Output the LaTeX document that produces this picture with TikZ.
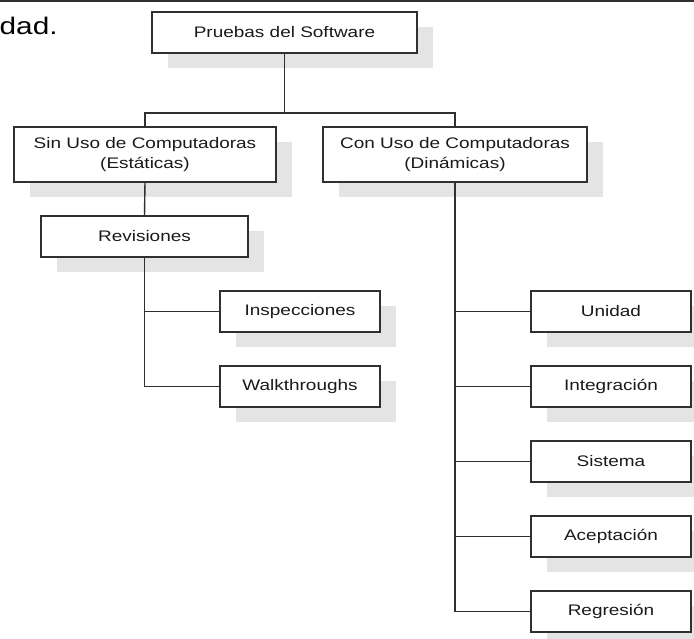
\documentclass[tikz,border=0pt]{standalone}
\usepackage{fontspec}
\setmainfont{Liberation Sans}
\usetikzlibrary{shadows}
\newcommand\hs[1]{\scalebox{1.24}[1]{#1}}
\definecolor{shadowgray}{HTML}{E4E4E4}
\definecolor{edgegray}{HTML}{303030}
\definecolor{txtgray}{HTML}{1A1A1A}
\begin{document}
\begin{tikzpicture}[x=1pt,y=-1pt,
  box/.style={draw=edgegray, line width=1.4pt, fill=white, inner sep=0pt, outer sep=0pt,
    text=txtgray, align=center, font=\fontsize{15.3}{20}\selectfont,
    drop shadow={shadow xshift=16pt, shadow yshift=-15pt, fill=shadowgray, opacity=1}},
  conn/.style={draw=edgegray, line width=1.4pt}]
\useasboundingbox (0,0) rectangle (694,638);
\clip (0,0) rectangle (694,638);
\draw[line width=1.6pt, edgegray] (0,1) -- (694,1);
\node[anchor=base west, text=black, font=\fontsize{24}{27}\selectfont, inner sep=0pt] (dad) at (-0.5,34) {\scalebox{1.24}[1]{dad.}};

\node[box, minimum width=265pt, minimum height=41pt] (pr) at (284.5,32.5) {\hs{Pruebas del Software}};
\node[box, minimum width=262pt, minimum height=55pt] (sin) at (145,154.5) {\hs{Sin Uso de Computadoras}\\\hs{(Estáticas)}};
\node[box, minimum width=264pt, minimum height=55pt] (con) at (455,154.5) {\hs{Con Uso de Computadoras}\\\hs{(Dinámicas)}};
\node[box, minimum width=207pt, minimum height=41pt] (rev) at (144.5,236.5) {\hs{Revisiones}};
\node[box, minimum width=160pt, minimum height=41pt] (ins) at (300,311.5) {\hs{Inspecciones}};
\node[box, minimum width=160pt, minimum height=41pt] (wal) at (300,386.5) {\hs{Walkthroughs}};
\node[box, minimum width=160pt, minimum height=41pt] (uni) at (611,311.5) {\hs{Unidad}};
\node[box, minimum width=160pt, minimum height=41pt] (int) at (611,386.5) {\hs{Integración}};
\node[box, minimum width=160pt, minimum height=41pt] (sis) at (611,461.5) {\hs{Sistema}};
\node[box, minimum width=160pt, minimum height=41pt] (ace) at (611,536.5) {\hs{Aceptación}};
\node[box, minimum width=160pt, minimum height=41pt] (reg) at (611,611.5) {\hs{Regresión}};

\coordinate (bus) at (0,113);
\draw[conn] (pr.south) -- (pr.south |- bus);
\draw[conn] (sin.north) -- (sin.north |- bus) -- (con.north |- bus) -- (con.north);
\draw[conn] (sin.south) -- (rev.north);
\draw[conn] (rev.south) |- (wal.west);
\draw[conn] (rev.south |- ins.west) -- (ins.west);
\draw[conn] (con.south) |- (reg.west);
\draw[conn] (con.south |- uni.west) -- (uni.west);
\draw[conn] (con.south |- int.west) -- (int.west);
\draw[conn] (con.south |- sis.west) -- (sis.west);
\draw[conn] (con.south |- ace.west) -- (ace.west);
\end{tikzpicture}
\end{document}
